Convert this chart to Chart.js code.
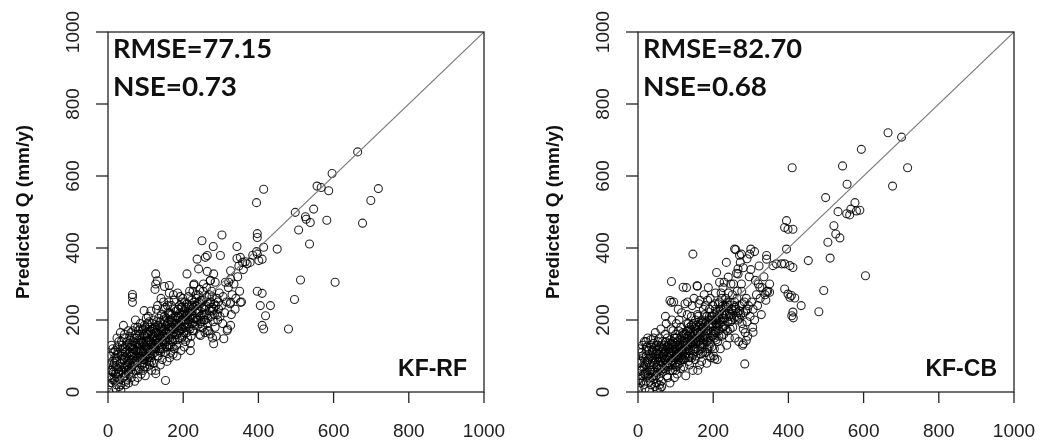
<!DOCTYPE html>
<html>
<head>
<meta charset="utf-8">
<script src="https://cdn.jsdelivr.net/npm/chart.js@4"></script>
<style>
  html, body { margin: 0; padding: 0; background: #fff; overflow: hidden; }
  #wrap { position: relative; width: 1040px; height: 441px; }
  canvas { position: absolute; top: 0; }
</style>
</head>
<body>
<div id="wrap">
  <canvas id="c1" width="510" height="441" style="left:0px"></canvas>
  <canvas id="c2" width="510" height="441" style="left:530px"></canvas>
</div>
<script>
// ---------------- DATA ----------------
const xTicks = [0, 200, 400, 600, 800, 1000];
const yTicks = [0, 200, 400, 600, 800, 1000];
const yTitle = "Predicted Q (mm/y)";
const panelNames = ["KF-RF", "KF-CB"];
const rmseLabels = ["RMSE=77.15", "RMSE=82.70"];
const nseLabels = ["NSE=0.73", "NSE=0.68"];
const lineOneToOne = [[0, 0], [1000, 1000]];

// KF-RF : [observed, predicted]
const rfCloud = [
[2,5],[5,20],[8,40],[10,60],[12,85],[15,110],[18,30],[20,70],[22,95],[25,125],[28,50],[30,15],[3,75],[6,100],[9,130],[14,55],[17,80],[24,40],[27,105],[29,140],[4,45],[11,25],[19,115],[26,65],
[32,35],[35,60],[38,90],[40,120],[42,150],[45,45],[48,75],[50,100],[52,130],[55,25],[57,65],[58,110],[33,80],[36,140],[44,160],[47,30],[53,85],[59,145],[41,55],[39,105],[54,170],[46,125],[34,20],[56,50],
[62,40],[64,70],[66,95],[68,120],[70,150],[72,180],[75,60],[77,85],[80,110],[82,135],[84,160],[86,190],[88,50],[90,75],[63,105],[67,140],[71,30],[74,100],[78,125],[81,170],[85,95],[87,145],[89,115],[61,165],[73,200],[79,40],
[92,90],[94,110],[96,130],[98,155],[100,180],[102,205],[104,70],[106,95],[108,120],[110,145],[112,170],[114,225],[116,60],[118,105],[120,135],[93,60],[97,185],[101,100],[105,160],[109,85],[113,115],[117,190],[119,150],[95,140],[103,130],[111,75],[99,45],[107,210],
[122,80],[124,110],[126,140],[128,165],[130,195],[132,240],[134,100],[136,130],[138,155],[140,180],[142,215],[144,90],[146,120],[148,250],[123,175],[127,60],[131,150],[135,205],[139,75],[143,145],[147,170],[125,285],[129,230],[137,115],[141,260],[149,135],
[152,110],[154,140],[156,165],[158,190],[160,220],[162,250],[164,95],[166,130],[168,155],[170,180],[172,205],[174,270],[176,120],[178,145],[153,235],[157,85],[161,175],[165,200],[169,240],[173,105],[177,230],[151,195],[159,125],[171,160],[179,210],[163,275],
[182,130],[184,160],[186,185],[188,210],[190,240],[192,265],[194,115],[196,150],[198,175],[200,200],[202,225],[204,250],[206,140],[208,190],[183,100],[187,230],[191,170],[195,215],[199,260],[203,125],[207,235],[185,275],[193,195],[201,165],[209,215],
[212,150],[215,180],[218,205],[220,230],[223,255],[226,280],[228,170],[231,195],[234,220],[237,245],[240,270],[243,160],[246,210],[249,235],[214,265],[219,135],[224,190],[229,300],[233,240],[238,185],[242,225],[247,255],[211,215],[216,240],[221,155],[236,200],[244,285],
[252,180],[256,215],[260,240],[263,265],[266,205],[270,225],[273,250],[276,280],[280,195],[283,215],[287,240],[290,260],[294,230],[298,210],[254,300],[258,165],[262,290],[268,170],[272,310],[278,150],[285,180],[292,200],[296,275],[251,255],[275,235],[288,155],
[302,240],[306,265],[310,220],[315,250],[320,290],[325,245],[330,270],[335,300],[340,260],[345,320],[350,280],[355,250],[360,340],[305,190],[318,175],[328,215],[338,230],[348,350],[312,305],[358,360]
];
const rfDense = [
[20,50],[23,85],[31,70],[37,115],[43,90],[49,60],[51,140],[58,80],[63,130],[69,110],[76,150],[83,120],[91,100],[95,160],[100,125],[105,190],[110,100],[115,135],[121,155],[127,120],[133,170],[139,195],[145,155],[150,175],[155,205],[160,150],[165,180],[170,215],[175,190],[181,225],[189,180],[197,235],[205,210],[213,190],[222,215],[230,250],[239,220],[248,195],[257,230],[265,250],[274,210],[282,245],
[16,35],[21,10],[34,5],[39,40],[44,70],[50,35],[56,90],[60,125],[65,55],[71,85],[76,115],[83,65],[88,95],[94,80],[98,115],[103,85],[108,165],[113,140],[118,175],[124,125],[131,100],[136,180],[142,125],[148,200],[154,165],[161,195],[167,110],[172,140],[178,175],[185,145],[192,220],[198,155],[206,180],[215,200],[225,170],[235,260],[245,245],[255,200],[269,270],[281,230],[293,250],
[7,60],[13,120],[24,150],[33,165],[41,185],[47,20],[57,135],[66,170],[74,135],[79,180],[86,130],[92,170],[97,70],[104,150],[109,195],[116,85],[122,200],[128,145],[134,135],[140,110],[146,230],[153,150],[158,240],[164,220],[171,125],[176,255],[183,190],[190,150],[196,250],[203,200],[210,165],[217,280],[227,235],[241,200],[253,280],[264,190],[277,265],[291,215]
];
const rfDense2 = [
[10,35],[14,70],[18,95],[22,20],[26,110],[30,55],[35,100],[38,130],[42,65],[46,95],[50,115],[54,60],[58,155],[62,90],[66,120],[70,70],[74,160],[78,95],[82,145],[86,110],[90,140],[94,175],[98,100],[102,140],[106,115],[110,180],[114,95],[118,160],[122,120],[126,180],[130,135],[134,160],[138,120],[142,170],[146,140],[150,210],[154,185],[158,160],[162,130],[166,215],[170,145],[174,175],[178,200],[182,160],[186,205],[190,185],[194,235],[198,200],[202,180],[206,215],[210,245],[214,225],[218,175],[222,240],[226,205],[230,185],[234,270],[238,230],[242,250],[246,190],[250,215],[258,200],[262,215],[270,245],[278,225],
[45,110],[52,75],[61,100],[67,80],[73,115],[80,60],[85,175],[91,135],[96,90],[101,165],[107,140],[112,110],[119,125],[125,165],[132,185],[137,145],[144,180],[149,155],[156,125],[163,170],[169,195],[175,165],[180,190],[187,170],[194,175],[200,220],[208,200],[216,220],[224,225],[232,205]
];
const rfOutliers = [
[664,667],[596,607],[719,565],[699,532],[677,469],[582,477],[587,559],[556,572],[567,568],[547,508],[525,487],[527,480],[538,471],[498,499],[507,450],[536,411],[604,305],[512,311],[496,257],[480,175],[450,397],[414,563],[395,526],[397,440],[397,429],[414,402],[397,383],[410,369],[401,365],[397,280],[410,274],[405,240],[432,240],[419,212],[410,185],[414,175],[352,374],[370,356],[343,404],[343,371],[326,337],[326,314],[321,305],[303,436],[299,379],[280,404],[250,420],[259,374],[237,369],[264,379],[241,342],[264,335],[281,328],[272,309],[285,305],[210,328],[228,297],[352,249],[326,249],[326,185],[317,171],[281,134],[308,148],[272,161],[219,115],[246,157],[264,171],[127,328],[131,309],[127,300],[150,293],[163,296],[65,271],[65,263],[65,249],[96,226],[153,32],[127,51],[385,380],[395,390],[378,360],[365,362]
];

// KF-CB : [observed, predicted]
const cbCloud = [
[2,10],[4,35],[6,60],[8,85],[10,110],[12,130],[15,20],[18,50],[20,75],[22,100],[25,125],[28,40],[30,5],[3,120],[7,25],[11,70],[14,95],[17,140],[21,30],[24,60],[27,90],[29,115],[5,80],[13,45],[19,10],[26,150],
[32,30],[35,55],[38,85],[40,110],[42,135],[45,15],[48,45],[50,70],[52,95],[55,120],[57,150],[59,10],[33,100],[36,125],[39,60],[43,80],[46,165],[49,25],[53,140],[56,40],[58,65],[34,145],[41,35],[47,105],[51,5],[54,85],
[62,30],[64,55],[66,80],[68,105],[70,130],[72,160],[75,190],[77,45],[80,70],[82,95],[84,120],[86,145],[88,175],[90,200],[63,15],[67,120],[71,90],[74,60],[78,150],[81,110],[85,25],[87,85],[89,135],[61,175],[73,210],[79,40],
[92,60],[94,85],[96,110],[98,135],[100,160],[102,190],[104,50],[106,75],[108,100],[110,125],[112,150],[114,180],[116,220],[118,90],[120,115],[93,170],[97,40],[101,70],[105,140],[109,200],[113,65],[117,130],[119,165],[95,250],[103,120],[111,95],[107,230],[99,95],
[122,70],[124,100],[126,130],[128,160],[130,190],[132,250],[134,85],[136,115],[138,145],[140,175],[142,210],[144,240],[146,60],[148,105],[123,140],[127,45],[131,215],[135,170],[139,130],[143,95],[147,190],[125,245],[129,290],[137,75],[141,155],[149,260],
[152,90],[154,120],[156,150],[158,180],[160,210],[162,245],[164,75],[166,105],[168,135],[170,165],[172,195],[174,230],[176,270],[178,110],[153,200],[157,295],[161,140],[165,255],[169,85],[173,150],[177,215],[151,175],[159,60],[171,125],[179,240],[163,185],
[182,110],[184,140],[186,170],[188,200],[190,230],[192,260],[194,95],[196,125],[198,155],[200,185],[202,215],[204,245],[206,275],[208,145],[183,80],[187,290],[191,180],[195,210],[199,240],[203,120],[207,165],[185,255],[193,135],[201,100],[209,200],
[212,140],[215,170],[218,200],[220,230],[223,260],[226,290],[228,160],[231,185],[234,215],[237,245],[240,275],[243,150],[246,195],[249,230],[214,245],[219,120],[224,180],[229,305],[233,260],[238,170],[242,210],[247,300],[211,90],[216,215],[221,275],[236,130],[244,250],
[252,180],[256,205],[260,230],[263,260],[266,200],[270,240],[273,215],[276,280],[280,175],[283,250],[287,225],[290,195],[294,240],[298,210],[254,300],[258,150],[262,330],[268,140],[272,360],[278,130],[285,165],[292,155],[296,320],[251,270],[275,300],[288,260],
[302,250],[306,230],[310,200],[315,270],[320,300],[325,260],[330,290],[335,320],[340,255],[345,280],[350,300],[305,180],[318,240],[328,215],[338,270],[312,310],[300,340],[322,350],[290,370],[280,345],[270,380],[260,395],[310,390]
];
const cbDense = [
[20,55],[23,115],[31,75],[37,40],[43,120],[49,90],[51,55],[58,125],[63,95],[69,65],[76,100],[83,75],[91,120],[95,95],[100,60],[105,105],[110,80],[115,115],[121,135],[127,105],[133,155],[139,100],[145,130],[150,145],[155,185],[160,115],[165,160],[170,200],[175,145],[181,170],[189,125],[197,200],[205,170],[213,185],[222,155],[230,220],[239,195],[248,210],[257,250],[265,220],
[16,70],[21,140],[34,20],[39,95],[44,55],[50,130],[56,105],[60,85],[65,140],[71,110],[76,75],[83,135],[88,110],[94,130],[98,75],[103,150],[108,170],[113,100],[118,140],[124,115],[131,170],[136,95],[142,185],[148,140],[154,100],[161,165],[167,190],[172,110],[178,190],[185,120],[192,150],[198,210],[206,230],[215,155],[225,205],[235,235],[245,175],[255,240],[269,205],[281,220],
[7,45],[13,100],[24,85],[33,60],[41,150],[47,125],[57,20],[66,100],[74,140],[79,125],[86,60],[92,140],[97,150],[104,95],[109,110],[116,155],[122,90],[128,120],[134,190],[140,140],[146,165],[153,135],[158,215],[164,130],[171,180],[176,160],[183,210],[190,100],[196,180],[203,150],[210,220],[217,250],[227,180],[241,240],[253,225],[264,280],[277,190],[291,230]
];
const cbDense2 = [
[10,60],[14,30],[18,85],[22,125],[26,45],[30,95],[35,70],[38,115],[42,45],[46,85],[50,105],[54,130],[58,95],[62,70],[66,125],[70,95],[74,115],[78,80],[82,120],[86,100],[90,85],[94,110],[98,150],[102,100],[106,130],[110,105],[114,145],[118,115],[122,160],[126,95],[130,140],[134,120],[138,165],[142,135],[146,115],[150,160],[154,140],[158,165],[162,195],[166,145],[170,120],[174,180],[178,155],[182,195],[186,150],[190,210],[194,165],[198,190],[202,160],[206,200],[210,180],[214,205],[218,225],[222,195],[226,240],[230,205],[234,175],[238,250],[242,225],[246,215],[250,200],[258,235],[262,210],[270,225],[278,245],
[45,95],[52,115],[61,60],[67,105],[73,90],[80,130],[85,110],[91,75],[96,125],[101,115],[107,90],[112,130],[119,105],[125,150],[132,130],[137,180],[144,150],[149,120],[156,170],[163,150],[169,175],[175,135],[180,150],[187,185],[194,200],[200,170],[208,190],[216,190],[224,215],[232,240]
];
const cbOutliers = [
[665,720],[701,708],[717,623],[677,572],[594,674],[544,628],[556,577],[410,623],[499,540],[532,501],[555,495],[566,508],[581,503],[590,505],[577,526],[563,492],[521,462],[526,439],[505,416],[537,428],[511,372],[605,323],[494,282],[481,223],[453,365],[434,240],[412,222],[413,206],[409,212],[395,476],[399,452],[412,452],[390,457],[395,397],[390,356],[404,351],[412,346],[382,356],[390,286],[399,272],[408,268],[404,263],[417,261],[368,356],[342,369],[359,351],[342,379],[300,397],[297,383],[257,397],[275,383],[235,360],[209,332],[146,383],[89,307],[120,291],[158,294],[85,254],[89,249],[284,78],[306,166],[288,143],[280,134],[342,279],[324,291],[350,277],[217,305],[240,319],[266,328],[266,342],[204,92]
];

// ---------------- CHART ----------------
function toXY(arr) { return arr.map(p => ({ x: p[0], y: p[1] })); }

const framePlugin = {
  id: 'frame',
  afterDraw(chart, args, opts) {
    const ctx = chart.ctx;
    const xs = chart.scales.x, ys = chart.scales.y;
    const a = chart.chartArea;
    ctx.save();
    ctx.strokeStyle = '#222';
    ctx.lineWidth = 1.3;
    ctx.strokeRect(a.left, a.top, a.right - a.left, a.bottom - a.top);
    ctx.fillStyle = '#222';
    ctx.font = '19px "Liberation Sans", Arial, sans-serif';
    ctx.textAlign = 'center';
    ctx.textBaseline = 'alphabetic';
    xTicks.forEach(v => {
      const px = xs.getPixelForValue(v);
      ctx.beginPath(); ctx.moveTo(px, a.bottom); ctx.lineTo(px, a.bottom + 11); ctx.stroke();
      ctx.fillText(String(v), px, 437);
    });
    yTicks.forEach(v => {
      const py = ys.getPixelForValue(v);
      ctx.beginPath(); ctx.moveTo(a.left, py); ctx.lineTo(a.left - 12, py); ctx.stroke();
      ctx.save();
      ctx.translate(79, py);
      ctx.rotate(-Math.PI / 2);
      ctx.fillText(String(v), 0, 0);
      ctx.restore();
    });
    ctx.save();
    ctx.font = 'bold 19px "Liberation Sans", Arial, sans-serif';
    ctx.fillStyle = '#111';
    ctx.translate(29, (a.top + a.bottom) / 2);
    ctx.rotate(-Math.PI / 2);
    ctx.fillText(yTitle, 0, 0);
    ctx.restore();
    ctx.fillStyle = '#111';
    ctx.textAlign = 'left';
    ctx.font = 'bold 26px Lato, "Open Sans", sans-serif';
    const drawFit = (t, x, y, w) => {
      const m = ctx.measureText(t).width;
      ctx.save(); ctx.translate(x, y); ctx.scale(w / m, 1); ctx.fillText(t, 0, 0); ctx.restore();
    };
    drawFit(opts.rmse, a.left + 5, 58, 159);
    drawFit(opts.nse, a.left + 5, 96, 124);
    ctx.font = 'bold 23px "Liberation Sans", Arial, sans-serif';
    ctx.textAlign = 'right';
    ctx.fillText(opts.name, a.left + 359, 376);
    ctx.restore();
  }
};

function makeChart(id, pts, idx) {
  return new Chart(document.getElementById(id), {
    type: 'scatter',
    data: {
      datasets: [
        {
          type: 'line',
          data: toXY(lineOneToOne),
          borderColor: '#7a7a7a',
          borderWidth: 1.2,
          pointRadius: 0,
          fill: false
        },
        {
          data: toXY(pts),
          pointStyle: 'circle',
          pointRadius: 4,
          pointHoverRadius: 4,
          borderColor: 'rgba(0,0,0,0.85)',
          backgroundColor: 'rgba(0,0,0,0)',
          borderWidth: 1.1
        }
      ]
    },
    options: {
      responsive: false,
      animation: false,
      devicePixelRatio: 1,
      layout: { padding: { left: 108, top: 32, right: 26, bottom: 49 } },
      scales: {
        x: { type: 'linear', min: 0, max: 1000, display: false },
        y: { type: 'linear', min: 0, max: 1000, display: false }
      },
      plugins: {
        legend: { display: false },
        tooltip: { enabled: false },
        frame: { rmse: rmseLabels[idx], nse: nseLabels[idx], name: panelNames[idx] }
      }
    },
    plugins: [framePlugin]
  });
}

makeChart('c1', rfCloud.concat(rfDense, rfDense2, rfOutliers), 0);
makeChart('c2', cbCloud.concat(cbDense, cbDense2, cbOutliers), 1);
</script>
</body>
</html>
